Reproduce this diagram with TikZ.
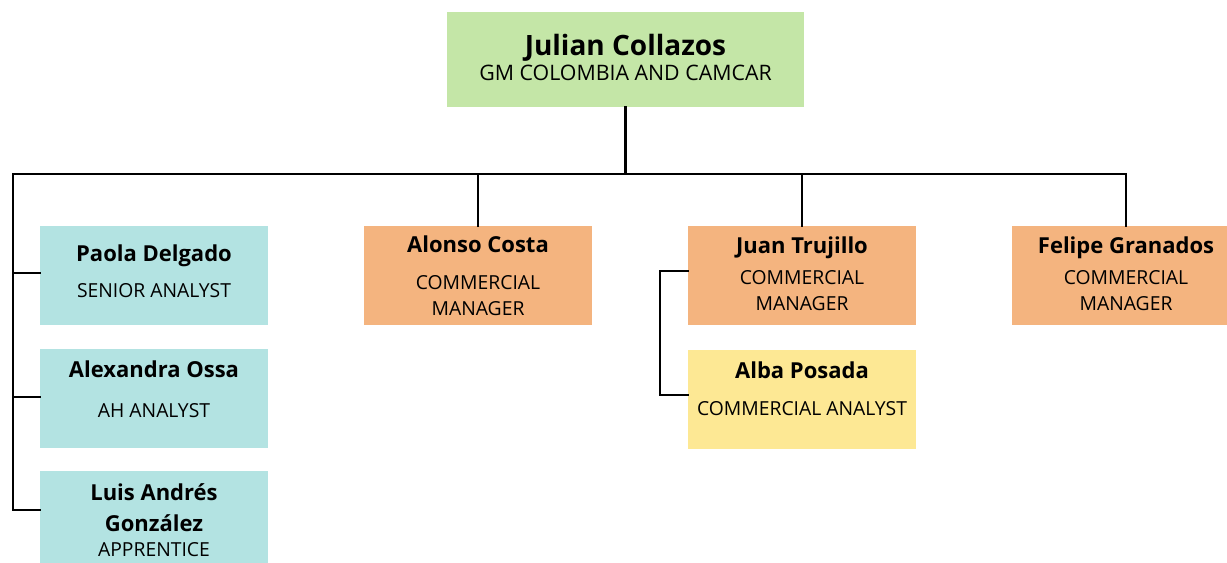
\documentclass[tikz,border=0pt]{standalone}
\usepackage{fontspec}
\setmainfont{Open Sans}
\usetikzlibrary{positioning}

\tikzset{
  person/.style={minimum width=171pt, minimum height=74.25pt, align=center,
                 inner sep=0pt, font=\fontsize{14.5}{19}\selectfont},
  link/.style={line width=2.2pt, line cap=rect}
}
\newcommand{\pname}[1]{{\fontsize{16.5}{19}\selectfont\bfseries #1}}

\begin{document}
\begin{tikzpicture}[x=0.75pt, y=-0.75pt]
    \definecolor{fillGreen}{HTML}{C4E6A7}
    \definecolor{fillCyan}{HTML}{B3E3E2}
    \definecolor{fillOrange}{HTML}{F4B47F}
    \definecolor{fillYellow}{HTML}{FDE894}

    \useasboundingbox (0,0) rectangle (1227,563);
    \clip (0,0) rectangle (1227,563);

    % Head of the team
    \node[person, fill=fillGreen, minimum width=268pt, minimum height=71pt,
          font=\fontsize{16}{20}\selectfont] (ceo) at (625.5,59.5)
        {{\fontsize{21}{22}\selectfont\bfseries Julian Collazos}\\[-1pt]GM COLOMBIA AND CAMCAR\\[-17pt]};

    % Analysts on the left
    \node[person, fill=fillCyan] (paola) at (154,275.5)
        {\pname{Paola Delgado}\\[8pt]SENIOR ANALYST\\[-13pt]};
    \node[person, fill=fillCyan] (alexandra) at (154,398)
        {\pname{Alexandra Ossa}\\[11pt]AH ANALYST\\[-6pt]};
    \node[person, fill=fillCyan] (luis) at (154,520)
        {\pname{Luis Andrés}\\[4pt]\pname{González}\\[0pt]APPRENTICE};

    % Commercial managers
    \node[person, fill=fillOrange] (alonso) at (478,275.5)
        {\pname{Alonso Costa}\\[9pt]COMMERCIAL\\[0pt]MANAGER};
    \node[person, fill=fillOrange] (juan) at (802,275.5)
        {\pname{Juan Trujillo}\\[4.5pt]COMMERCIAL\\[0.5pt]MANAGER\\[-16pt]};
    \node[person, fill=fillOrange] (felipe) at (1126,275.5)
        {\pname{Felipe Granados}\\[4.5pt]COMMERCIAL\\[0.5pt]MANAGER\\[-16pt]};
    \node[person, fill=fillYellow] (alba) at (802,399.5)
        {\pname{Alba Posada}\\[9pt]COMMERCIAL ANALYST\\[-2.5pt]};

    % Draw connectors
    \coordinate (busL) at (13,174);
    \coordinate (busR) at (1126,174);
    \draw[link] (ceo.south) -- (ceo.south |- busL);
    \draw[link] (busL) -- (busR) -- (felipe.north);
    \draw[link] (alonso.north |- busL) -- (alonso.north);
    \draw[link] (juan.north |- busL) -- (juan.north);
    \draw[link] (busL) |- (luis.west |- 0,510);
    \draw[link] (busL |- 0,273) -- (paola.west |- 0,273);
    \draw[link] (busL |- 0,397) -- (alexandra.west |- 0,397);

    \coordinate (juanL) at (660,271);
    \draw[link] (juan.west |- juanL) -- (juanL) |- (alba.west |- 0,395);

\end{tikzpicture}
\end{document}
